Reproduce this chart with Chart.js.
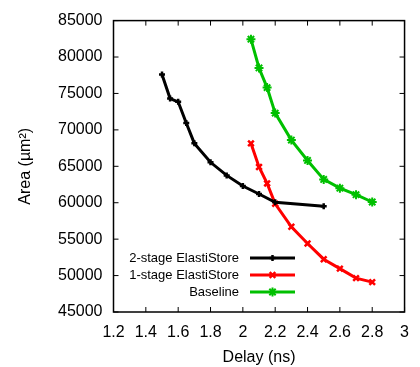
<!DOCTYPE html>
<html lang="en">
<head>
    <meta charset="UTF-8">
    <title>Area vs Delay</title>
    <script src="https://cdn.jsdelivr.net/npm/chart.js"></script>
    <style>
        html, body { margin: 0; padding: 0; background: #fff; }
        #wrap { width: 420px; height: 367px; }
    </style>
</head>
<body>
    <div id="wrap"><canvas id="grafico" width="420" height="367"></canvas></div>
    <script>
        // dati
        const delayDue = [1.5, 1.55, 1.6, 1.65, 1.7, 1.8, 1.9, 2.0, 2.1, 2.2, 2.5];
        const areaDue = [77600, 74300, 73850, 70950, 68150, 65550, 63750, 62300, 61200, 60050, 59500];

        const delayUno = [2.05, 2.1, 2.15, 2.2, 2.3, 2.4, 2.5, 2.6, 2.7, 2.8];
        const areaUno = [68150, 64900, 62650, 59850, 56700, 54400, 52250, 50950, 49650, 49100];

        const delayBase = [2.05, 2.1, 2.15, 2.2, 2.3, 2.4, 2.5, 2.6, 2.7, 2.8];
        const areaBase = [82450, 78500, 75800, 72300, 68600, 65800, 63200, 62000, 61100, 60100];

        const nomiSerie = ['2-stage ElastiStore', '1-stage ElastiStore', 'Baseline'];
        const coloriSerie = ['#000000', '#ff0000', '#00c000'];
        const puntiSerie = ['cross', 'crossRot', 'star'];
        const raggiPunti = [3, 4, 4.5];
        const spessoriPunti = [2.5, 2.5, 2];

        const FONT = '"Liberation Sans", Arial, Helvetica, sans-serif';

        function punti(xs, ys) {
            return xs.map((x, i) => ({ x: x, y: ys[i] }));
        }

        // cornice e tacche interne come gnuplot, più la legenda
        const cornice = {
            id: 'cornice',
            afterDatasetsDraw(chart) {
                const c = chart.ctx;
                const a = chart.chartArea;
                const sx = chart.scales.x, sy = chart.scales.y;
                c.save();
                c.strokeStyle = '#000';
                c.lineWidth = 1.5;
                c.strokeRect(a.left, a.top, a.right - a.left, a.bottom - a.top);
                c.lineWidth = 1;
                c.beginPath();
                sx.ticks.forEach(t => {
                    const px = sx.getPixelForValue(t.value);
                    c.moveTo(px, a.bottom); c.lineTo(px, a.bottom - 5);
                    c.moveTo(px, a.top); c.lineTo(px, a.top + 5);
                });
                sy.ticks.forEach(t => {
                    const py = sy.getPixelForValue(t.value);
                    c.moveTo(a.left, py); c.lineTo(a.left + 5, py);
                    c.moveTo(a.right, py); c.lineTo(a.right - 5, py);
                });
                c.stroke();

                // legenda
                c.font = '13px ' + FONT;
                c.textAlign = 'right';
                c.textBaseline = 'middle';
                chart.data.datasets.forEach((ds, i) => {
                    const y = 258 + i * 17;
                    c.fillStyle = '#000';
                    c.fillText(ds.label, 239, y);
                    c.strokeStyle = ds.borderColor;
                    c.lineWidth = 3;
                    c.beginPath();
                    c.moveTo(250, y); c.lineTo(295, y);
                    c.stroke();
                    c.lineWidth = ds.pointBorderWidth;
                    Chart.helpers.drawPoint(c, {
                        pointStyle: ds.pointStyle, radius: ds.pointRadius,
                        borderWidth: ds.pointBorderWidth, rotation: 0
                    }, 272.5, y);
                });
                c.restore();
            }
        };

        const ctx = document.getElementById('grafico').getContext('2d');
        const serie = [punti(delayDue, areaDue), punti(delayUno, areaUno), punti(delayBase, areaBase)];

        new Chart(ctx, {
            type: 'scatter',
            data: {
                datasets: serie.map((d, i) => ({
                    label: nomiSerie[i],
                    data: d,
                    showLine: true,
                    borderColor: coloriSerie[i],
                    backgroundColor: coloriSerie[i],
                    borderWidth: 3,
                    pointStyle: puntiSerie[i],
                    pointRadius: raggiPunti[i],
                    pointBorderWidth: spessoriPunti[i],
                    pointBorderColor: coloriSerie[i],
                    tension: 0
                }))
            },
            options: {
                responsive: false,
                animation: false,
                layout: { padding: { top: 15, right: 8.5, left: 0, bottom: 0 } },
                plugins: { legend: { display: false }, tooltip: { enabled: false } },
                scales: {
                    x: {
                        type: 'linear',
                        min: 1.2, max: 3,
                        grid: { display: false, drawTicks: false },
                        border: { display: false },
                        ticks: {
                            stepSize: 0.2, color: '#000', padding: 11,
                            font: { size: 16, family: FONT },
                            callback: v => String(+v.toFixed(1))
                        },
                        title: {
                            display: true, text: 'Delay (ns)', color: '#000',
                            font: { size: 16, family: FONT }, padding: { top: 7, bottom: 0 }
                        },
                        afterFit(s) { s.height = 55; }
                    },
                    y: {
                        min: 45000, max: 85000,
                        grid: { display: false, drawTicks: false },
                        border: { display: false },
                        ticks: {
                            stepSize: 5000, color: '#000', padding: 11,
                            font: { size: 16, family: FONT },
                            callback: v => String(v)
                        },
                        title: {
                            display: true, text: 'Area (µm²)', color: '#000',
                            font: { size: 16, family: FONT }, padding: { top: 16, bottom: 0 }
                        },
                        afterFit(s) { s.width = 113.5; }
                    }
                }
            },
            plugins: [cornice]
        });
    </script>
</body>
</html>
